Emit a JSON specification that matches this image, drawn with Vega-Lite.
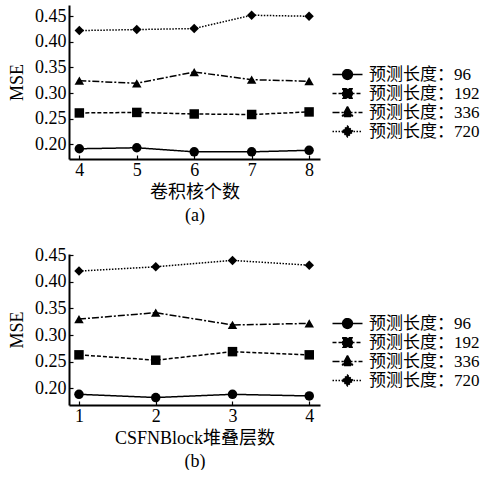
{
  "$schema": "https://vega.github.io/schema/vega-lite/v6.json",
  "padding": {"left": 8, "top": 5, "right": 0, "bottom": 0},
  "background": "white",
  "datasets": {
    "a": [
      {"k": 4, "series": "预测长度：96", "mse": 0.191},
      {"k": 5, "series": "预测长度：96", "mse": 0.193},
      {"k": 6, "series": "预测长度：96", "mse": 0.185},
      {"k": 7, "series": "预测长度：96", "mse": 0.185},
      {"k": 8, "series": "预测长度：96", "mse": 0.188},
      {"k": 4, "series": "预测长度：192", "mse": 0.261},
      {"k": 5, "series": "预测长度：192", "mse": 0.262},
      {"k": 6, "series": "预测长度：192", "mse": 0.259},
      {"k": 7, "series": "预测长度：192", "mse": 0.258},
      {"k": 8, "series": "预测长度：192", "mse": 0.263},
      {"k": 4, "series": "预测长度：336", "mse": 0.324},
      {"k": 5, "series": "预测长度：336", "mse": 0.319},
      {"k": 6, "series": "预测长度：336", "mse": 0.341},
      {"k": 7, "series": "预测长度：336", "mse": 0.326},
      {"k": 8, "series": "预测长度：336", "mse": 0.323},
      {"k": 4, "series": "预测长度：720", "mse": 0.422},
      {"k": 5, "series": "预测长度：720", "mse": 0.424},
      {"k": 6, "series": "预测长度：720", "mse": 0.426},
      {"k": 7, "series": "预测长度：720", "mse": 0.452},
      {"k": 8, "series": "预测长度：720", "mse": 0.450}
    ],
    "b": [
      {"k": 1, "series": "预测长度：96", "mse": 0.189},
      {"k": 2, "series": "预测长度：96", "mse": 0.183},
      {"k": 3, "series": "预测长度：96", "mse": 0.189},
      {"k": 4, "series": "预测长度：96", "mse": 0.186},
      {"k": 1, "series": "预测长度：192", "mse": 0.263},
      {"k": 2, "series": "预测长度：192", "mse": 0.253},
      {"k": 3, "series": "预测长度：192", "mse": 0.269},
      {"k": 4, "series": "预测长度：192", "mse": 0.263},
      {"k": 1, "series": "预测长度：336", "mse": 0.330},
      {"k": 2, "series": "预测长度：336", "mse": 0.342},
      {"k": 3, "series": "预测长度：336", "mse": 0.319},
      {"k": 4, "series": "预测长度：336", "mse": 0.322},
      {"k": 1, "series": "预测长度：720", "mse": 0.420},
      {"k": 2, "series": "预测长度：720", "mse": 0.428},
      {"k": 3, "series": "预测长度：720", "mse": 0.440},
      {"k": 4, "series": "预测长度：720", "mse": 0.431}
    ]
  },
  "resolve": {"scale": {"strokeDash": "independent", "shape": "independent"}, "legend": {"strokeDash": "independent", "shape": "independent"}},
  "vconcat": [
    {
      "width": 251,
      "height": 154,
      "data": {"name": "a"},
      "encoding": {
        "x": {"field": "k", "type": "quantitative",
          "scale": {"domain": [3.82, 8.19], "nice": false, "zero": false},
          "axis": {"values": [4, 5, 6, 7, 8], "format": "d", "title": ["卷积核个数", "(a)"]}},
        "y": {"field": "mse", "type": "quantitative",
          "scale": {"domain": [0.171, 0.472], "nice": false, "zero": false},
          "axis": {"values": [0.2, 0.25, 0.3, 0.35, 0.4, 0.45], "format": ".2f", "title": "MSE"}}
      },
      "layer": [
        {
          "mark": {"type": "line", "color": "black", "strokeWidth": 1.5},
          "encoding": {
            "strokeDash": {"field": "series", "type": "nominal",
              "scale": {"domain": ["预测长度：96", "预测长度：192", "预测长度：336", "预测长度：720"], "range": [[1, 0], [4, 2], [7, 2, 2, 2], [1.5, 1.5]]},
              "legend": {"orient": "none", "legendX": 270, "legendY": 61, "title": null, "padding": 0,
                "symbolSize": 225, "symbolStrokeWidth": 1.5, "labelOffset": 13, "rowPadding": 1,
                "labelFont": "Liberation Serif, Noto Sans CJK SC", "labelFontSize": 17, "labelColor": "black",
                "encoding": {"symbols": {
                  "shape": {"value": {"signal": "['M-2,0L2,0M0.65,0A0.65,0.65,0,1,1,-0.65,0A0.65,0.65,0,1,1,0.65,0Z', 'M-2,0L2,0M-0.62,-0.62L0.62,-0.62L0.62,0.62L-0.62,0.62Z', 'M-2,0L2,0M0,-0.78L0.72,0.52L-0.72,0.52Z', 'M-2,0L2,0M0,-0.72L0.72,0L0,0.72L-0.72,0Z'][datum.index]"}},
                  "fill": {"value": "black"}, "stroke": {"value": "black"}, "opacity": {"value": 1}}}}}
          }
        },
        {
          "mark": {"type": "point", "filled": true, "color": "black", "size": 90, "opacity": 1},
          "encoding": {
            "shape": {"field": "series", "type": "nominal",
              "scale": {"domain": ["预测长度：720", "预测长度：336", "预测长度：192", "预测长度：96"], "range": ["diamond", "triangle-up", "square", "circle"]},
              "legend": null}
          }
        }
      ]
    },
    {
      "width": 251,
      "height": 151,
      "data": {"name": "b"},
      "encoding": {
        "x": {"field": "k", "type": "quantitative",
          "scale": {"domain": [0.87, 4.14], "nice": false, "zero": false},
          "axis": {"values": [1, 2, 3, 4], "format": "d", "title": ["CSFNBlock堆叠层数", "(b)"]}},
        "y": {"field": "mse", "type": "quantitative",
          "scale": {"domain": [0.169, 0.452], "nice": false, "zero": false},
          "axis": {"values": [0.2, 0.25, 0.3, 0.35, 0.4, 0.45], "format": ".2f", "title": "MSE"}}
      },
      "layer": [
        {
          "mark": {"type": "line", "color": "black", "strokeWidth": 1.5},
          "encoding": {
            "strokeDash": {"field": "series", "type": "nominal",
              "scale": {"domain": ["预测长度：96", "预测长度：192", "预测长度：336", "预测长度：720"], "range": [[1, 0], [4, 2], [7, 2, 2, 2], [1.5, 1.5]]},
              "legend": {"orient": "none", "legendX": 270, "legendY": 61, "title": null, "padding": 0,
                "symbolSize": 225, "symbolStrokeWidth": 1.5, "labelOffset": 13, "rowPadding": 1,
                "labelFont": "Liberation Serif, Noto Sans CJK SC", "labelFontSize": 17, "labelColor": "black",
                "encoding": {"symbols": {
                  "shape": {"value": {"signal": "['M-2,0L2,0M0.65,0A0.65,0.65,0,1,1,-0.65,0A0.65,0.65,0,1,1,0.65,0Z', 'M-2,0L2,0M-0.62,-0.62L0.62,-0.62L0.62,0.62L-0.62,0.62Z', 'M-2,0L2,0M0,-0.78L0.72,0.52L-0.72,0.52Z', 'M-2,0L2,0M0,-0.72L0.72,0L0,0.72L-0.72,0Z'][datum.index]"}},
                  "fill": {"value": "black"}, "stroke": {"value": "black"}, "opacity": {"value": 1}}}}}
          }
        },
        {
          "mark": {"type": "point", "filled": true, "color": "black", "size": 90, "opacity": 1},
          "encoding": {
            "shape": {"field": "series", "type": "nominal",
              "scale": {"domain": ["预测长度：720", "预测长度：336", "预测长度：192", "预测长度：96"], "range": ["diamond", "triangle-up", "square", "circle"]},
              "legend": null}
          }
        }
      ]
    }
  ],
  "spacing": 22,
  "config": {
    "view": {"stroke": null},
    "axis": {
      "grid": false,
      "domainColor": "black", "domainWidth": 2,
      "tickColor": "black", "tickWidth": 1.2, "tickSize": -4,
      "labelFont": "Liberation Serif", "labelFontSize": 18, "labelColor": "black", "labelPadding": 6,
      "titleFont": "Liberation Serif, Noto Sans CJK SC", "titleFontSize": 18, "titleFontWeight": "normal", "titleColor": "black",
      "titleLineHeight": 23
    },
    "axisY": {"titlePadding": 8, "labelPadding": 7},
    "axisX": {"titlePadding": 4}
  }
}
